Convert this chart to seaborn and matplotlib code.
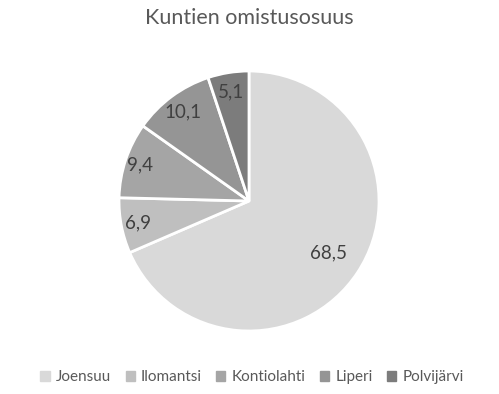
import numpy as np
import matplotlib
matplotlib.use("Agg")
import matplotlib.pyplot as plt
import seaborn as sns

categories = ["Joensuu", "Ilomantsi", "Kontiolahti", "Liperi", "Polvijärvi"]
values = [68.5, 6.9, 9.4, 10.1, 5.1]
value_labels = ["68,5", "6,9", "9,4", "10,1", "5,1"]
colors = ["#d9d9d9", "#bfbfbf", "#a5a5a5", "#959595", "#7c7c7c"]
label_dist = [0.73, 0.87, 0.88, 0.85, 0.85]

sns.set_style("white")
plt.rcParams['font.family'] = ['Lato', 'DejaVu Sans']

fig = plt.figure(figsize=(4.99, 3.94), dpi=100)
ax = fig.add_axes([119/499, 63/394, 260/499, 260/394])
wedges, _ = ax.pie(values, colors=colors, startangle=90, counterclock=False,
                   radius=1, wedgeprops=dict(edgecolor="white", linewidth=2))
ax.set_xlim(-1, 1)
ax.set_ylim(-1, 1)
ax.set_aspect("equal")
ax.axis("off")

for w, lab, d in zip(wedges, value_labels, label_dist):
    ang = np.deg2rad((w.theta1 + w.theta2) / 2)
    ax.text(d*np.cos(ang), d*np.sin(ang), lab, ha="center", va="center",
            fontsize=13.5, color="#404040")

fig.text(0.5, 0.955, "Kuntien omistusosuus", ha="center", va="center",
         fontsize=15.5, color="#595959")

handles = [plt.Rectangle((0, 0), 1, 1, color=c) for c in colors]
fig.legend(handles, categories, loc="center", bbox_to_anchor=(0.505, 0.043),
           ncol=5, frameon=False, fontsize=11, handlelength=0.6, handleheight=0.6,
           handletextpad=0.4, columnspacing=0.95, labelcolor="#595959")

fig.savefig("out.png", dpi=100, facecolor="white")
